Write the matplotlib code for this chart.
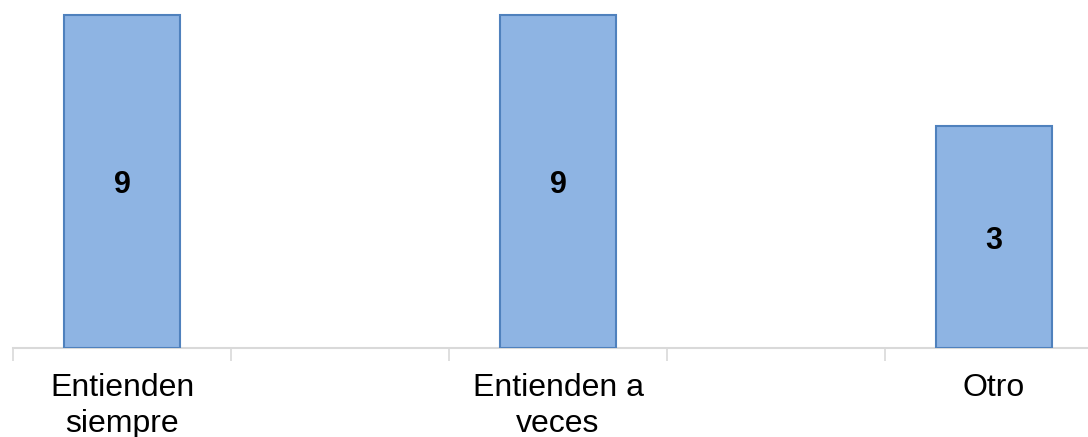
import numpy as np
import matplotlib.pyplot as plt

plt.rcParams['font.family'] = ['Liberation Sans', 'DejaVu Sans']

categorias = ["Entienden\nsiempre", "Entienden a\nveces", "Otro"]
valores = [9, 9, 3]
# the chart's value axis does not start at 0
base = -9

fig = plt.figure(figsize=(10.88, 4.37), dpi=100)
ax = fig.add_axes([13 / 1088, 1 - 348 / 437, 1090 / 1088, 348 / 437])

x = np.arange(len(categorias)) * 2
alturas = [v - base for v in valores]
barras = ax.bar(x, alturas, bottom=base, width=0.53, color='#8EB4E3',
                edgecolor='#4F81BD', linewidth=1.5, zorder=3)

for xi, v in zip(x, valores):
    ax.text(xi, (v + base) / 2 - 0.2, str(v), ha='center', va='center',
            fontsize=22, fontweight='bold', color='black', zorder=4)

ax.set_xlim(-0.5, 4.5)
ax.set_ylim(base, 9.81)
ax.set_yticks([])
ax.set_xticks(x)
ax.set_xticklabels(categorias, fontsize=23, linespacing=1.25)
ax.set_xticks(np.arange(-0.5, 5, 1), minor=True)
ax.tick_params(axis='x', which='major', length=0, pad=18)
ax.tick_params(axis='x', which='minor', length=9, color='#D9D9D9', width=1.2)

for s in ['top', 'right', 'left']:
    ax.spines[s].set_visible(False)
ax.spines['bottom'].set_color('#D9D9D9')
ax.spines['bottom'].set_linewidth(1.5)

fig.savefig('out.png', dpi=100)
